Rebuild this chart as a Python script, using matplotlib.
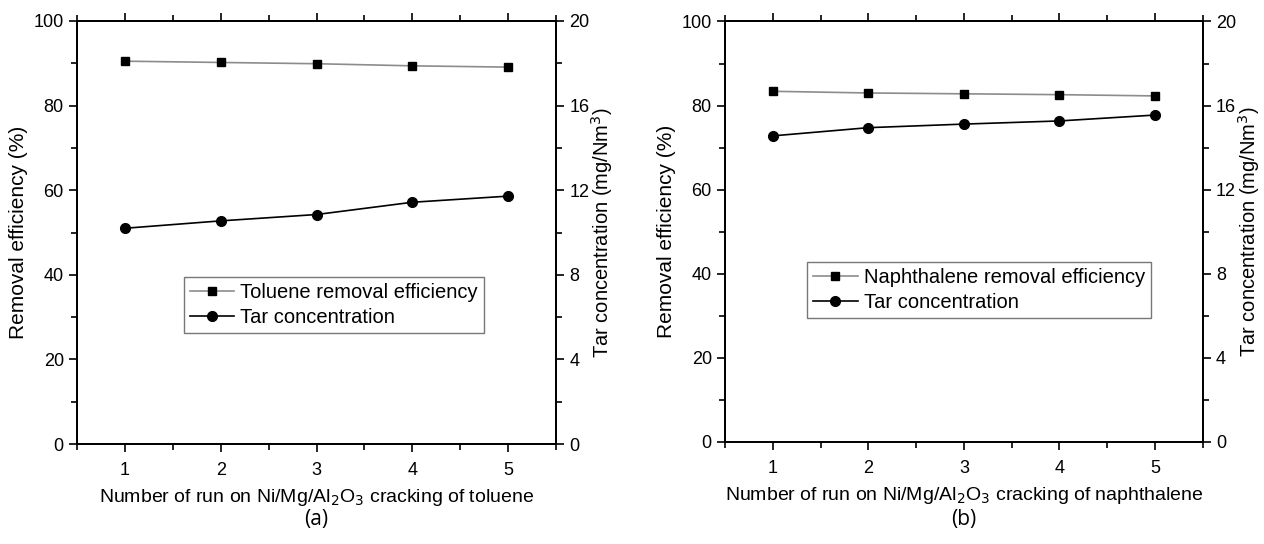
import matplotlib.pyplot as plt
from matplotlib.ticker import MultipleLocator

plt.rcParams['font.family'] = ['Liberation Sans', 'DejaVu Sans']

# Data
runs = [1, 2, 3, 4, 5]

tol_eff = [90.5, 90.2, 89.9, 89.4, 89.1]
tol_tar = [10.2, 10.55, 10.85, 11.43, 11.72]

nap_eff = [83.4, 83.0, 82.8, 82.6, 82.3]
nap_tar = [14.56, 14.95, 15.12, 15.27, 15.55]

panels = [
    ("Toluene removal efficiency", "toluene", "(a)", tol_eff, tol_tar),
    ("Naphthalene removal efficiency", "naphthalene", "(b)", nap_eff, nap_tar),
]

fig = plt.figure(figsize=(12.64, 5.44), dpi=100)
rects = [[0.0609, 0.1838, 0.379, 0.7776], [0.5736, 0.1875, 0.378, 0.773]]
legend_pos = [(0.223, 0.262), (0.172, 0.295)]

for rect, (eff_label, compound, tag, eff, tar), lpos in zip(rects, panels, legend_pos):
    ax = fig.add_axes(rect)
    ax2 = ax.twinx()

    l1, = ax.plot(runs, eff, '-', color='#8c8c8c', lw=1.2,
                  marker='s', ms=6, mfc='black', mec='black', label=eff_label)
    l2, = ax2.plot(runs, tar, '-', color='black', lw=1.2,
                   marker='o', ms=7, mfc='black', mec='black', label='Tar concentration')

    ax.set_xlim(0.5, 5.5)
    ax.set_ylim(0, 100)
    ax2.set_ylim(0, 20)
    ax.xaxis.set_major_locator(MultipleLocator(1))
    ax.xaxis.set_minor_locator(MultipleLocator(0.5))
    ax.yaxis.set_major_locator(MultipleLocator(20))
    ax.yaxis.set_minor_locator(MultipleLocator(10))
    ax2.yaxis.set_major_locator(MultipleLocator(4))
    ax2.yaxis.set_minor_locator(MultipleLocator(2))

    ax.tick_params(axis='both', which='major', direction='out', length=6, width=1.2, labelsize=13)
    ax.tick_params(axis='both', which='minor', direction='out', length=4, width=1.2)
    ax.tick_params(axis='x', which='major', pad=7)
    ax.tick_params(axis='x', which='both', top=True)
    ax2.tick_params(axis='y', which='major', direction='out', length=6, width=1.2, labelsize=13)
    ax2.tick_params(axis='y', which='minor', direction='out', length=4, width=1.2)
    for sp in list(ax.spines.values()) + list(ax2.spines.values()):
        sp.set_linewidth(1.3)

    ax.set_ylabel('Removal efficiency (%)', fontsize=15)
    ax2.set_ylabel('Tar concentration (mg/Nm$^3$)', fontsize=14.5, labelpad=0)
    ax.set_xlabel('Number of run on Ni/Mg/Al$_2$O$_3$ cracking of ' + compound, fontsize=14, labelpad=6)

    leg = ax.legend([l1, l2], [eff_label, 'Tar concentration'], loc='lower left',
                    bbox_to_anchor=lpos, fontsize=14.5, frameon=True, fancybox=False,
                    edgecolor='#555555', handlelength=2.2, handletextpad=0.3,
                    borderpad=0.3, labelspacing=0.3, borderaxespad=0)
    leg.get_frame().set_linewidth(1.0)

    cx = rect[0] + rect[2] / 2
    fig.text(cx, 0.045, tag, ha='center', va='center', fontsize=15, family=['Open Sans', 'DejaVu Sans'])

fig.savefig('out.png', dpi=100)
